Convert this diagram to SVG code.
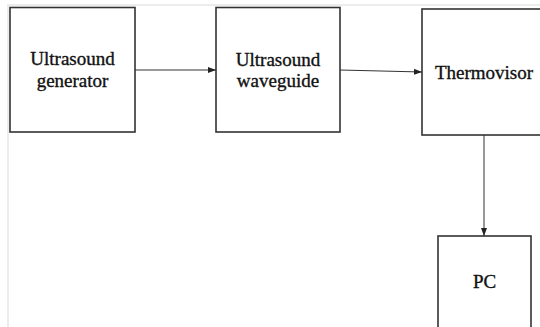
<svg xmlns="http://www.w3.org/2000/svg" width="540" height="327" viewBox="0 0 540 327">
<style>
.box{fill:#fff;stroke:#333;stroke-width:1.6}
.lbl{font-family:"Liberation Serif","Times New Roman",serif;font-size:19px;fill:#111;stroke:#111;stroke-width:0.35;text-anchor:middle}
.conn{stroke:#333;stroke-width:1;fill:none}
.frame{stroke:#ececec;stroke-width:2;fill:none}
</style>
<defs>
<marker id="ah" viewBox="0 0 8 6" refX="8" refY="3" markerWidth="8" markerHeight="6" markerUnits="userSpaceOnUse" orient="auto">
<path d="M0,0 L8,3 L0,6 Z" fill="#222"/>
</marker>
</defs>
<rect width="540" height="327" fill="#fff"/>
<path class="frame" d="M8,327 V5 H540"/>
<g id="generator">
<rect class="box" x="10" y="7.5" width="125" height="124.5"/>
<text class="lbl" x="72.5" y="65">Ultrasound</text>
<text class="lbl" x="72.5" y="87">generator</text>
</g>
<g id="waveguide">
<rect class="box" x="216" y="7.5" width="124" height="124.5"/>
<text class="lbl" x="278" y="66">Ultrasound</text>
<text class="lbl" x="278" y="87">waveguide</text>
</g>
<g id="thermovisor">
<rect class="box" x="422" y="9" width="124" height="126"/>
<text class="lbl" x="484" y="79">Thermovisor</text>
</g>
<g id="pc">
<rect class="box" x="438" y="236" width="93" height="95"/>
<text class="lbl" x="484.5" y="288">PC</text>
</g>
<g id="connectors">
<line class="conn" x1="135" y1="70" x2="216" y2="70" marker-end="url(#ah)"/>
<line class="conn" x1="340" y1="70" x2="422" y2="72" marker-end="url(#ah)"/>
<line class="conn" x1="484" y1="135" x2="484" y2="236" marker-end="url(#ah)"/>
</g>
</svg>
